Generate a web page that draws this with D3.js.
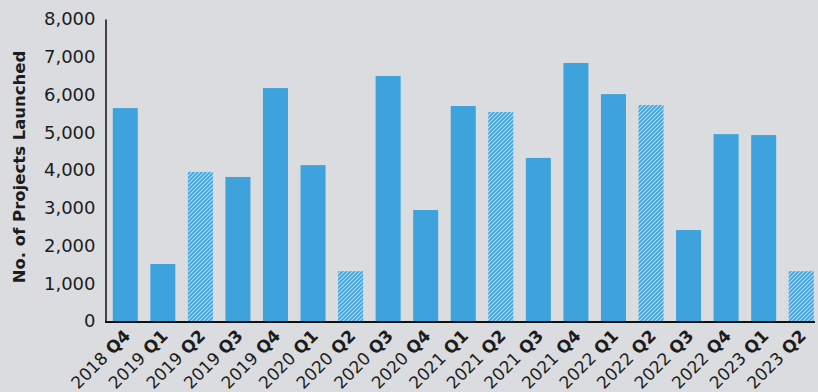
<!DOCTYPE html>
<html>
<head>
<meta charset="utf-8">
<script src="https://cdn.jsdelivr.net/npm/d3@7/dist/d3.min.js"></script>
<style>
  html, body { margin: 0; padding: 0; background: #dadce0; }
  svg { display: block; }
  text { font-family: "DejaVu Sans", sans-serif; fill: #1c1c1c; }
</style>
</head>
<body>
<svg id="chart" width="818" height="392"></svg>
<script>
// Quarterly project launches
const quarters = [
  "2018 Q4", "2019 Q1", "2019 Q2", "2019 Q3", "2019 Q4",
  "2020 Q1", "2020 Q2", "2020 Q3", "2020 Q4",
  "2021 Q1", "2021 Q2", "2021 Q3", "2021 Q4",
  "2022 Q1", "2022 Q2", "2022 Q3", "2022 Q4",
  "2023 Q1", "2023 Q2"
];
const projects = [
  5640, 1510, 3950, 3815, 6170,
  4130, 1320, 6490, 2940,
  5695, 5535, 4320, 6835,
  6010, 5720, 2410, 4950,
  4925, 1320
];
// Quarters drawn with a hatched fill
const hatched = ["2019 Q2", "2020 Q2", "2021 Q2", "2022 Q2", "2023 Q2"];
const yTicks = [0, 1000, 2000, 3000, 4000, 5000, 6000, 7000, 8000];

const svg = d3.select("#chart");
const barColor = "#3ea3dd";

const x = d3.scaleBand()
  .domain(quarters)
  .range([106.5, 820])
  .paddingInner(0.334)
  .paddingOuter(0.167);

const y = d3.scaleLinear()
  .domain([0, 8000])
  .range([321, 19]);

// Diagonal hatch pattern
const defs = svg.append("defs");
const pat = defs.append("pattern")
  .attr("id", "hatch")
  .attr("patternUnits", "userSpaceOnUse")
  .attr("width", 4)
  .attr("height", 4);
pat.append("rect").attr("width", 4).attr("height", 4).attr("fill", barColor);
pat.append("path")
  .attr("d", "M-1,1 L1,-1 M0,4 L4,0 M3,5 L5,3")
  .attr("stroke", "#ffffff")
  .attr("stroke-opacity", 0.6)
  .attr("stroke-width", 1.2);

// Bars
svg.append("g")
  .selectAll("rect")
  .data(quarters)
  .join("rect")
  .attr("x", d => x(d))
  .attr("width", x.bandwidth())
  .attr("y", (d, i) => y(projects[i]))
  .attr("height", (d, i) => y(0) - y(projects[i]))
  .attr("fill", d => hatched.includes(d) ? "url(#hatch)" : barColor);

// Y axis
const yAxis = svg.append("g")
  .attr("transform", "translate(105.5,0)")
  .call(d3.axisLeft(y).tickValues(yTicks).tickSize(0).tickPadding(10)
    .tickFormat(d3.format(",")));
yAxis.select(".domain").attr("stroke", "#111").attr("stroke-width", 1.5);
yAxis.selectAll(".tick text")
  .attr("font-size", 18)
  .attr("font-family", "DejaVu Sans, sans-serif")
  .attr("fill", "#1c1c1c");

// X axis
const xAxis = svg.append("g")
  .attr("transform", "translate(0,322)")
  .call(d3.axisBottom(x).tickSize(0).tickFormat(""));
xAxis.select(".domain")
  .attr("d", "M105,0H815")
  .attr("stroke", "#111")
  .attr("stroke-width", 1.8);

xAxis.selectAll(".tick").each(function(d) {
  const parts = d.split(" ");
  const t = d3.select(this).append("text")
    .attr("text-anchor", "end")
    .attr("font-size", 17)
    .attr("fill", "#1c1c1c")
    .attr("transform", "translate(6,15) rotate(-45)");
  t.append("tspan").text(parts[0] + " ");
  t.append("tspan").attr("font-weight", "bold").text(parts[1]);
});

// Y axis title
svg.append("text")
  .attr("transform", "translate(25,167) rotate(-90)")
  .attr("text-anchor", "middle")
  .attr("font-family", "Liberation Sans, Arial, sans-serif")
  .attr("font-weight", "bold")
  .attr("font-size", 16.5)
  .text("No. of Projects Launched");
</script>
</body>
</html>
